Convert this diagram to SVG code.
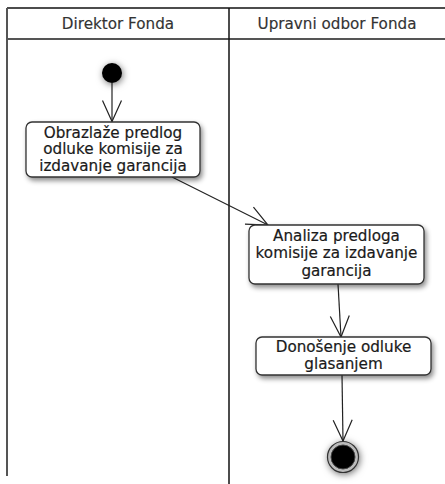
<svg xmlns="http://www.w3.org/2000/svg" width="445" height="484" viewBox="0 0 445 484">
  <style>
    .label { font-family: "DejaVu Sans", Verdana, sans-serif; font-size: 15.2px; fill: #1a1a1a; stroke: #1a1a1a; stroke-width: 0.2; text-anchor: middle; }
    .head { font-family: "DejaVu Sans", Verdana, sans-serif; font-size: 15.2px; fill: #333; stroke: #333; stroke-width: 0.15; text-anchor: middle; }
    .box { fill: #fff; stroke: #333; stroke-width: 1.3; filter: url(#shadow); }
    .flow { fill: none; stroke: #222; stroke-width: 1.2; marker-end: url(#open); }
  </style>
  <defs>
    <filter id="shadow" x="-30%" y="-30%" width="160%" height="160%">
      <feDropShadow dx="2" dy="3" stdDeviation="2.5" flood-color="#000" flood-opacity="0.45"/>
    </filter>
    <filter id="glow" x="-80%" y="-80%" width="260%" height="260%">
      <feDropShadow dx="1" dy="1.5" stdDeviation="3.5" flood-color="#000" flood-opacity="0.55"/>
    </filter>
    <marker id="open" markerUnits="userSpaceOnUse" markerWidth="30" markerHeight="30" refX="24" refY="12" orient="auto" overflow="visible">
      <path d="M3,2.5 L24,12 L3,21.5" fill="none" stroke="#222" stroke-width="1.2"/>
    </marker>
  </defs>

  <!-- swimlanes -->
  <g id="lanes">
    <line x1="7" y1="8" x2="445" y2="8" stroke="#111" stroke-width="1.5"/>
    <line x1="7" y1="39" x2="445" y2="39" stroke="#555" stroke-width="2"/>
    <line x1="7" y1="8" x2="7" y2="476" stroke="#555" stroke-width="2"/>
    <line x1="229" y1="8" x2="229" y2="484" stroke="#111" stroke-width="1.5"/>
    <text class="head" x="118" y="28.5">Direktor Fonda</text>
    <text class="head" x="337" y="28.5">Upravni odbor Fonda</text>
  </g>

  <!-- connectors -->
  <g id="connectors">
    <line class="flow" x1="112" y1="83" x2="112" y2="121.5"/>
    <line class="flow" x1="172" y1="177" x2="268" y2="225"/>
    <line class="flow" x1="338" y1="284" x2="341" y2="337"/>
    <line class="flow" x1="342" y1="375" x2="343" y2="441"/>
  </g>

  <g id="start">
    <circle cx="112" cy="73" r="10" fill="#000" filter="url(#glow)"/>
  </g>

  <g id="obrazlaze">
    <rect class="box" x="26" y="122" width="174" height="55" rx="6"/>
    <text class="label" x="113" y="137.5">Obrazlaže predlog</text>
    <text class="label" x="113" y="154">odluke komisije za</text>
    <text class="label" x="113" y="170.5">izdavanje garancija</text>
  </g>

  <g id="analiza">
    <rect class="box" x="249" y="225" width="175" height="59" rx="6"/>
    <text class="label" x="336.5" y="240.5">Analiza predloga</text>
    <text class="label" x="336.5" y="258">komisije za izdavanje</text>
    <text class="label" x="336.5" y="275.5">garancija</text>
  </g>

  <g id="donosenje">
    <rect class="box" x="256" y="337" width="175" height="38" rx="6"/>
    <text class="label" x="343.5" y="351.5">Donošenje odluke</text>
    <text class="label" x="343.5" y="369">glasanjem</text>
  </g>

  <g id="end">
    <circle cx="343" cy="457" r="15.5" fill="#bbb" stroke="#333" stroke-width="1.2" filter="url(#glow)"/>
    <circle cx="343" cy="457" r="12" fill="#000" stroke="#444" stroke-width="1"/>
  </g>
</svg>
